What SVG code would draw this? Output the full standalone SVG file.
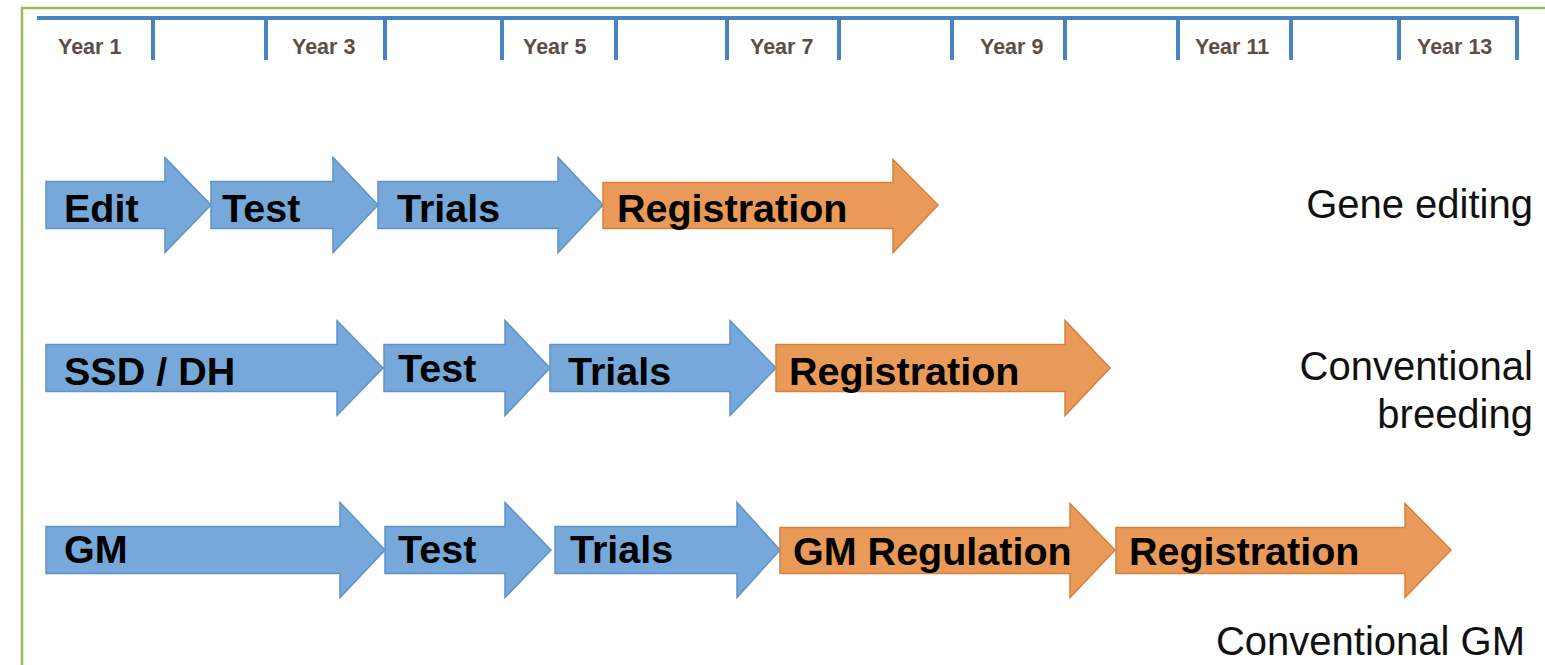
<svg xmlns="http://www.w3.org/2000/svg" width="1545" height="665" viewBox="0 0 1545 665">
<style>
.blue{fill:#76a9d9;stroke:#5f93c6;stroke-width:1.5}
.orange{fill:#e99a58;stroke:#d6803d;stroke-width:1.5}
.lbl{font-family:"Liberation Sans",Arial,sans-serif;font-weight:bold;font-size:39.5px;fill:#000}
.side{font-family:"Liberation Sans",Arial,sans-serif;font-size:40px;fill:#111;text-anchor:end}
.yr{font-family:"Liberation Sans",Arial,sans-serif;font-weight:bold;font-size:21.5px;fill:#5a4e46}
.tick{stroke:#4684c4;stroke-width:4;stroke-linecap:butt}
</style>
<rect width="1545" height="665" fill="#fff"/>
<rect x="22" y="8" width="1540" height="700" fill="none" stroke="#9bbb59" stroke-width="2.5"/>
<g id="timeline">
<line class="tick" x1="37" y1="18" x2="1519" y2="18"/>
<line class="tick" x1="153" y1="18" x2="153" y2="60"/>
<line class="tick" x1="266" y1="18" x2="266" y2="60"/>
<line class="tick" x1="385" y1="18" x2="385" y2="60"/>
<line class="tick" x1="502" y1="18" x2="502" y2="60"/>
<line class="tick" x1="616" y1="18" x2="616" y2="60"/>
<line class="tick" x1="727" y1="18" x2="727" y2="60"/>
<line class="tick" x1="839" y1="18" x2="839" y2="60"/>
<line class="tick" x1="952" y1="18" x2="952" y2="60"/>
<line class="tick" x1="1065" y1="18" x2="1065" y2="60"/>
<line class="tick" x1="1178" y1="18" x2="1178" y2="60"/>
<line class="tick" x1="1291" y1="18" x2="1291" y2="60"/>
<line class="tick" x1="1399" y1="18" x2="1399" y2="60"/>
<line class="tick" x1="1517" y1="18" x2="1517" y2="60"/>
<text class="yr" x="58" y="54">Year 1</text>
<text class="yr" x="292" y="54">Year 3</text>
<text class="yr" x="523" y="54">Year 5</text>
<text class="yr" x="750" y="54">Year 7</text>
<text class="yr" x="980" y="54">Year 9</text>
<text class="yr" x="1195" y="54">Year 11</text>
<text class="yr" x="1417" y="54">Year 13</text>
</g>
<g id="row1">
<g id="r1-edit"><path class="blue" d="M46 181.5H165V157.5L211 205L165 252.5V228.5H46Z"/><text class="lbl" x="64" y="222">Edit</text></g>
<g id="r1-test"><path class="blue" d="M211 181.5H333V157.5L378 205L333 252.5V228.5H211Z"/><text class="lbl" x="222" y="222">Test</text></g>
<g id="r1-trials"><path class="blue" d="M378 181.5H558V157.5L603 205L558 252.5V228.5H378Z"/><text class="lbl" x="397" y="222">Trials</text></g>
<g id="r1-reg"><path class="orange" d="M603 182.5H893V159.5L938 205L893 252.5V228.5H603Z"/><text class="lbl" x="617" y="222">Registration</text></g>
<text class="side" x="1533" y="218">Gene editing</text>
</g>
<g id="row2">
<g id="r2-ssd"><path class="blue" d="M46 344.5H337V320.5L383 368L337 415.5V391.5H46Z"/><text class="lbl" x="64" y="385">SSD / DH</text></g>
<g id="r2-test"><path class="blue" d="M384 344.5H505V320.5L550 368L505 415.5V391.5H384Z"/><text class="lbl" x="398" y="382">Test</text></g>
<g id="r2-trials"><path class="blue" d="M550 344.5H730V320.5L776 368L730 415.5V391.5H550Z"/><text class="lbl" x="568" y="385">Trials</text></g>
<g id="r2-reg"><path class="orange" d="M776 344.5H1065V320.5L1110 368L1065 415.5V391.5H776Z"/><text class="lbl" x="789" y="385">Registration</text></g>
<text class="side" x="1533" y="380">Conventional</text>
<text class="side" x="1533" y="428">breeding</text>
</g>
<g id="row3">
<g id="r3-gm"><path class="blue" d="M46 526.5H340V502.5L385 550L340 597.5V573.5H46Z"/><text class="lbl" x="64" y="563">GM</text></g>
<g id="r3-test"><path class="blue" d="M385 526.5H505V502.5L551 550L505 597.5V573.5H385Z"/><text class="lbl" x="398" y="563">Test</text></g>
<g id="r3-trials"><path class="blue" d="M555 526.5H737V502.5L780 550L737 597.5V573.5H555Z"/><text class="lbl" x="570" y="563">Trials</text></g>
<g id="r3-gmreg"><path class="orange" d="M780 527.5H1070V503.5L1115 550L1070 597.5V573.5H780Z"/><text class="lbl" x="793" y="565">GM Regulation</text></g>
<g id="r3-reg"><path class="orange" d="M1116 527.5H1405V503.5L1451 550L1405 597.5V573.5H1116Z"/><text class="lbl" x="1129" y="565">Registration</text></g>
<text class="side" x="1525" y="655">Conventional GM</text>
</g>
</svg>
